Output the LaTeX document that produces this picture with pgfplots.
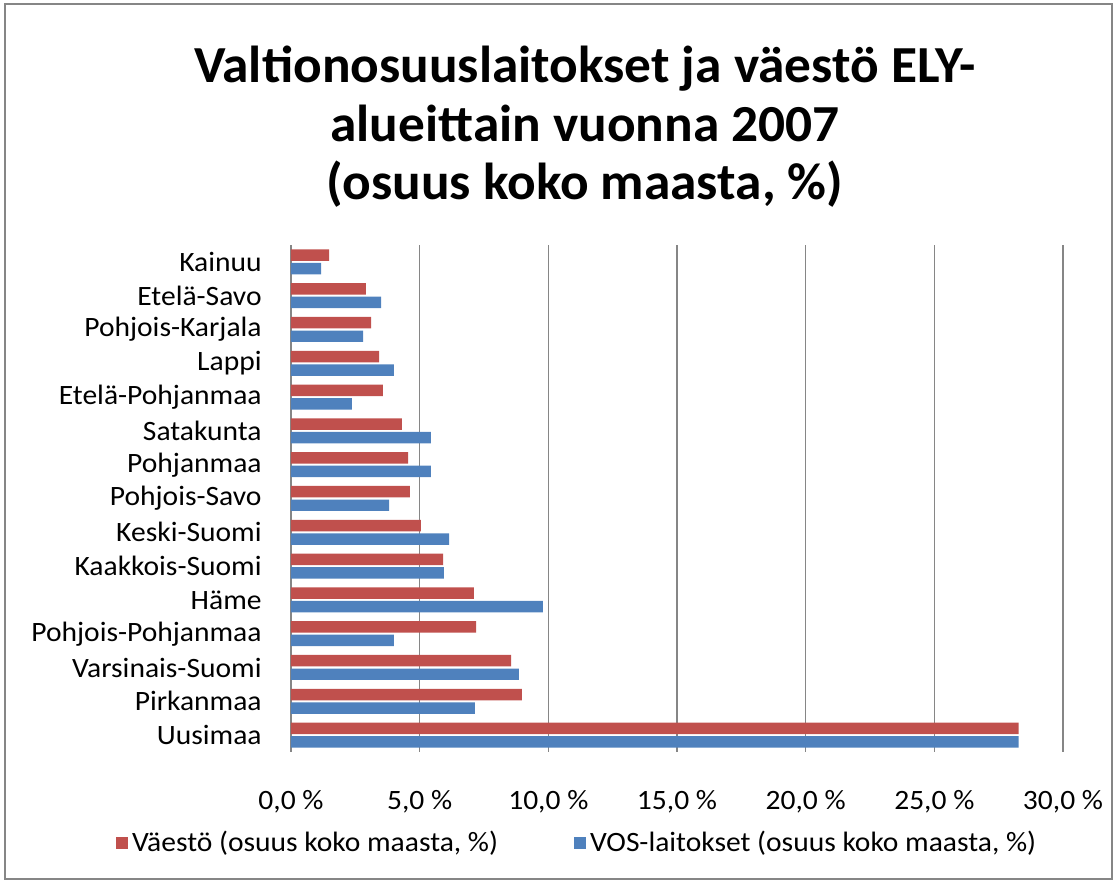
\documentclass[border=0pt]{standalone}
\usepackage{fontspec}
\setmainfont{Carlito}
\newfontfamily\widefont[FakeStretch=1.055]{Carlito}
\newfontfamily\titlefont[FakeStretch=1.026]{Carlito}
\usepackage{pgfplots}
\pgfplotsset{compat=1.18}
\definecolor{exred}{HTML}{C0504D}
\definecolor{exblue}{HTML}{4F81BD}
\definecolor{gridgray}{HTML}{868686}
\begin{document}
\begin{tikzpicture}[x=1pt,y=1pt]
\path[use as bounding box] (0,0) rectangle (558,441);
\draw[gridgray, line width=1pt] (2.5,1.5) rectangle (556,439);
\node[align=center, font=\titlefont\fontsize{26}{29.25}\selectfont\bfseries] at (292.5,377.5)
  {Valtionosuuslaitokset ja väestö ELY-\\alueittain vuonna 2007\\(osuus koko maasta, \%)};
\begin{axis}[
  at={(145.5pt,65pt)}, anchor=south west,
  width=386pt, height=253.5pt, scale only axis,
  xmin=0, xmax=30, ymin=-0.5, ymax=14.5,
  xtick={0,5,10,15,20,25,30},
  xticklabels={{0,0 \%},{5,0 \%},{10,0 \%},{15,0 \%},{20,0 \%},{25,0 \%},{30,0 \%}},
  ytick={0,...,14},
  yticklabels={Uusimaa,Pirkanmaa,Varsinais-Suomi,Pohjois-Pohjanmaa,Häme,Kaakkois-Suomi,Keski-Suomi,Pohjois-Savo,Pohjanmaa,Satakunta,Etelä-Pohjanmaa,Lappi,Pohjois-Karjala,Etelä-Savo,Kainuu},
  axis x line*=bottom, x axis line style={draw=none},
  axis y line*=left, y axis line style={gridgray, line width=1pt},
  major tick length=0pt,
  xmajorgrids, major grid style={gridgray, line width=0.65pt},
  tick label style={font=\widefont\fontsize{14}{16}\selectfont},
  yticklabel style={inner sep=0pt, anchor=east, xshift=-14.5pt},
  xticklabel style={inner sep=0pt, anchor=base, yshift=-29pt},
  xbar, bar width=0.34,
  legend columns=2,
  legend style={at={(0.372,-0.18)}, anchor=center, draw=none, font=\widefont\fontsize{14}{16}\selectfont,
    /tikz/every even column/.append style={column sep=36pt}},
  legend image code/.code={\fill (0pt,-3pt) rectangle (6pt,3pt);},
]
\addplot[fill=exred, draw=none, bar shift=0.2] coordinates {
(28.28,0) (8.97,1) (8.55,2) (7.19,3) (7.11,4) (5.91,5) (5.05,6) (4.62,7) (4.55,8) (4.31,9) (3.57,10) (3.42,11) (3.11,12) (2.91,13) (1.48,14)};
\addlegendentry{Väestö (osuus koko maasta, \%)}
\addplot[fill=exblue, draw=none, bar shift=-0.2] coordinates {
(28.28,0) (7.15,1) (8.86,2) (4.00,3) (9.79,4) (5.94,5) (6.14,6) (3.81,7) (5.44,8) (5.44,9) (2.37,10) (4.00,11) (2.80,12) (3.50,13) (1.17,14)};
\addlegendentry{VOS-laitokset (osuus koko maasta, \%)}
\end{axis}
\end{tikzpicture}
\end{document}
